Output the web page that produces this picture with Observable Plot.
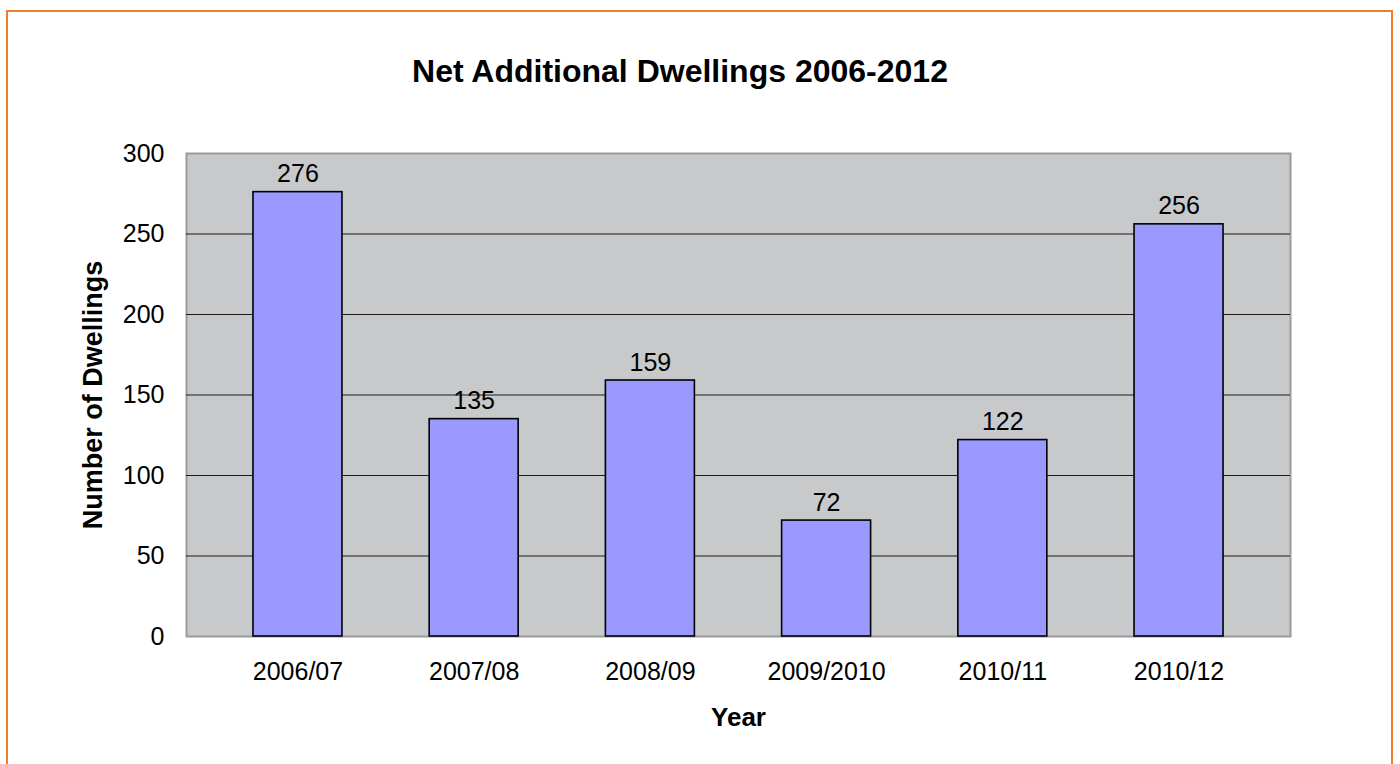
<!DOCTYPE html>
<html>
<head>
<meta charset="utf-8">
<script src="https://cdn.jsdelivr.net/npm/d3@7"></script>
<script src="https://cdn.jsdelivr.net/npm/@observablehq/plot@0.6"></script>
<style>
  html, body { margin: 0; padding: 0; background: #fff; overflow: hidden; }
  #wrap { position: relative; width: 1400px; height: 764px; font-family: "Liberation Sans", Arial, sans-serif; }
  #border { position: absolute; left: 6px; top: 10px; width: 1387px; height: 800px; border: 2px solid #F47B2C; box-sizing: border-box; }
  #title { position: absolute; left: 0; top: 54px; width: 1360px; text-align: center; font-size: 32px; line-height: 34px; font-weight: bold; color: #000; }
  #chart { position: absolute; left: 0; top: 0; }
</style>
</head>
<body>
<div id="wrap">
  <div id="border"></div>
  <div id="chart"></div>
  <div id="title">Net Additional Dwellings 2006-2012</div>
</div>
<script>
const categories = ["2006/07", "2007/08", "2008/09", "2009/2010", "2010/11", "2010/12"];
const values = [276, 135, 159, 72, 122, 256];
const yTicks = [0, 50, 100, 150, 200, 250, 300];
const gridTicks = [50, 100, 150, 200, 250];
const yLabel = "Number of Dwellings";
const xLabel = "Year";

const data = categories.map((c, i) => ({category: c, value: values[i]}));

const chart = Plot.plot({
  width: 1400,
  height: 764,
  marginTop: 153,
  marginBottom: 128,
  marginLeft: 186,
  marginRight: 110,
  style: {fontSize: "25px", fontFamily: "'Liberation Sans', Arial, sans-serif", color: "#000", background: "transparent"},
  x: {domain: categories, paddingInner: 0.495, paddingOuter: 0.38, round: false, label: null},
  y: {domain: [0, 300], label: null},
  marks: [
    Plot.frame({fill: "#C8C9CB", stroke: "#9A9A9A", strokeWidth: 2}),
    Plot.ruleY(gridTicks, {stroke: "#1a1a1a", strokeWidth: 1}),
    Plot.barY(data, {x: "category", y: "value", fill: "#9999FF", stroke: "#000", strokeWidth: 1.6}),
    Plot.text(data, {x: "category", y: "value", text: d => String(d.value), dy: -18, lineAnchor: "middle", fill: "#000", fontSize: 25}),
    Plot.axisY({ticks: yTicks, tickSize: 0, tickPadding: 22, tickFormat: d => String(d), fontSize: 25, label: null}),
    Plot.axisX({tickSize: 0, tickPadding: 26, fontSize: 25, label: null}),
    Plot.text([yLabel], {frameAnchor: "left", dx: -93, rotate: -90, text: d => d, fontSize: 27, fontWeight: "bold", fill: "#000", textAnchor: "middle", lineAnchor: "middle"}),
    Plot.text([xLabel], {frameAnchor: "bottom", dy: 81, text: d => d, fontSize: 26, fontWeight: "bold", fill: "#000", textAnchor: "middle", lineAnchor: "middle"})
  ]
});
document.getElementById("chart").appendChild(chart);
</script>
</body>
</html>
